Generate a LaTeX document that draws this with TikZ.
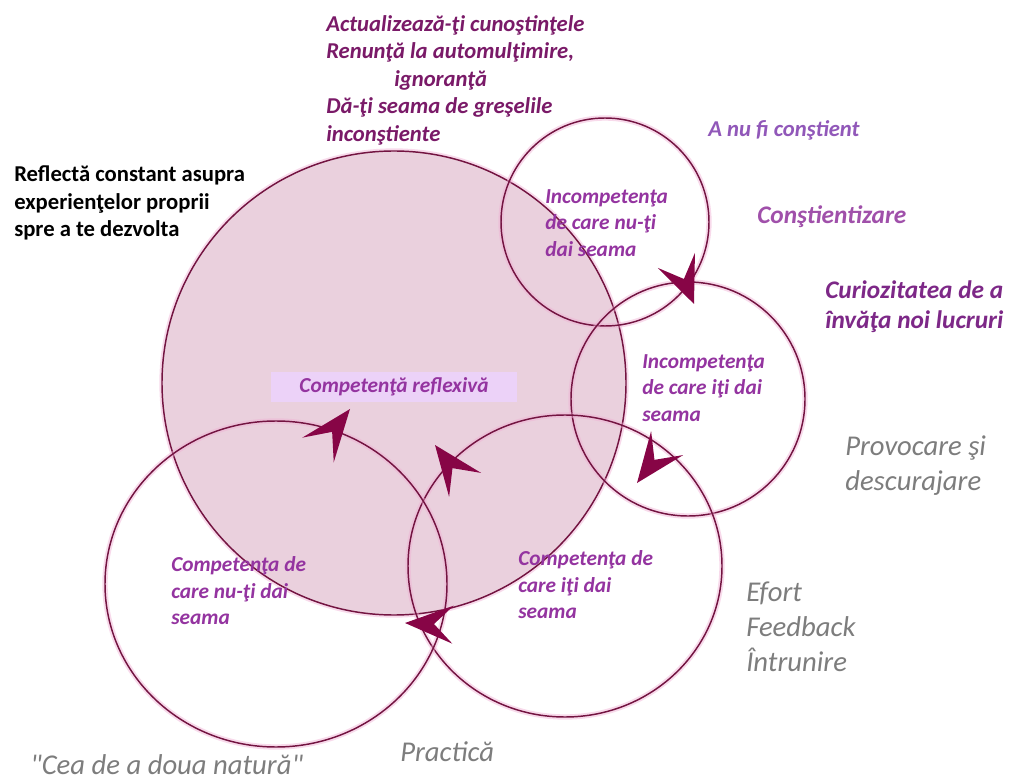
\documentclass[tikz,border=0pt]{standalone}
\usepackage{fontspec}
\setmainfont{Carlito}
\usepackage{tikz}
\definecolor{ringred}{RGB}{115,20,65}
\definecolor{glowpink}{RGB}{240,175,212}
\definecolor{tipred}{RGB}{135,5,70}
\definecolor{bigpink}{RGB}{234,208,221}
\definecolor{boxlav}{RGB}{236,210,248}
\definecolor{plumtext}{RGB}{122,26,104}
\definecolor{labelpurple}{RGB}{148,52,160}
\definecolor{lightpurple}{RGB}{145,88,185}
\definecolor{stagepurple}{RGB}{160,80,170}
\definecolor{deeppurple}{RGB}{125,40,135}
\definecolor{stepgray}{RGB}{125,125,125}

\begin{document}
\begin{tikzpicture}[x=0.75pt,y=-0.75pt,
  ring/.style={draw=ringred, line width=1.1pt,
    preaction={draw=glowpink, line width=4pt, opacity=0.45}},
  tipfill/.style={fill=tipred},
  txt/.style={anchor=west, align=left},
  circlelabel/.style={txt, text=labelpurple, font=\fontsize{16}{19.9}\selectfont\bfseries\itshape},
  steplabel/.style={txt, text=stepgray, font=\fontsize{21.5}{26.3}\selectfont\itshape}]
\tikzstyle{every node}+=[inner sep=0pt]
\fill [white] (0,0) rectangle (1018,784);
\useasboundingbox (0,0) rectangle (1018,784);
\coordinate (reflexive) at (394,383);
\coordinate (unaware) at (605,222);
\coordinate (aware) at (688,399);
\coordinate (skilled) at (565,566);
\coordinate (natural) at (276,584);
\draw [ring, fill=bigpink] (reflexive) circle [radius=232];
\draw [ring] (unaware) circle [radius=104];
\draw [ring] (aware) circle [radius=117];
\draw [ring] (skilled) ellipse [x radius=157, y radius=151];
\draw [ring] (natural) ellipse [x radius=171, y radius=163];
\node [fill=boxlav, minimum width=185pt, minimum height=22.5pt, text=labelpurple,
  font=\fontsize{16}{19}\selectfont\bfseries\itshape] (reflexlabel) at (394,387) {Competenţă reflexivă};
\coordinate (tip1) at (694,304);
\coordinate (tip2) at (637,483);
\coordinate (tip3) at (405,623);
\coordinate (tip4) at (350,409);
\coordinate (tip5) at (435,445);
\fill [tipfill, shift={(tip1)}, rotate=-68] (0,0) -- (-47,20) -- (-27,0) -- (-47,-20) -- cycle;
\fill [tipfill, shift={(tip2)}, rotate=-127] (0,0) -- (-50,20) -- (-29,0) -- (-50,-20) -- cycle;
\fill [tipfill, shift={(tip3)}, rotate=-182] (0,0) -- (-48,19) -- (-29,0) -- (-48,-19) -- cycle;
\fill [tipfill, shift={(tip4)}, rotate=52] (0,0) -- (-52,20) -- (-29,0) -- (-52,-20) -- cycle;
\fill [tipfill, shift={(tip5)}, rotate=127] (0,0) -- (-50,20) -- (-29,0) -- (-50,-20) -- cycle;
\node [txt, text=plumtext, font=\fontsize{17}{20.6}\selectfont\bfseries\itshape] (advice) at (326,80)
  {Actualizează-ţi cunoştinţele\\Renunţă la automulţimire,\\\hspace*{51pt}ignoranţă\\Dă-ţi seama de greşelile\\inconştiente};
\node [txt, text=black, font=\fontsize{17}{20.6}\selectfont\bfseries] (reflect) at (14,203)
  {Reflectă constant asupra\\experienţelor proprii\\spre a te dezvolta};
\node [circlelabel] (unawarelabel) at (545,223) {Incompetenţa\\de care nu-ţi\\dai seama};
\node [circlelabel] (awarelabel) at (642,388) {Incompetenţa\\de care iţi dai\\seama};
\node [circlelabel] (skilledlabel) at (518,585) {Competenţa de\\care iţi dai\\seama};
\node [circlelabel] (naturallabel) at (171,591) {Competenţa de\\care nu-ţi dai\\seama};
\node [txt, text=lightpurple, font=\fontsize{17}{20}\selectfont\bfseries\itshape] (notaware) at (708,130) {A nu fi conştient};
\node [txt, text=stagepurple, font=\fontsize{19}{22}\selectfont\bfseries\itshape] (awareness) at (757,217) {Conştientizare};
\node [txt, text=deeppurple, font=\fontsize{19}{22.5}\selectfont\bfseries\itshape] (curiosity) at (825,307) {Curiozitatea de a\\învăţa noi lucruri};
\node [steplabel] (challenge) at (845,466) {Provocare şi\\descurajare};
\node [steplabel] (effort) at (746,627) {Efort\\Feedback\\Întrunire};
\node [steplabel] (practice) at (400,752) {Practică};
\node [steplabel] (secondnature) at (30,765) {\textquotedbl Cea de a doua natură\textquotedbl};
\end{tikzpicture}
\end{document}
